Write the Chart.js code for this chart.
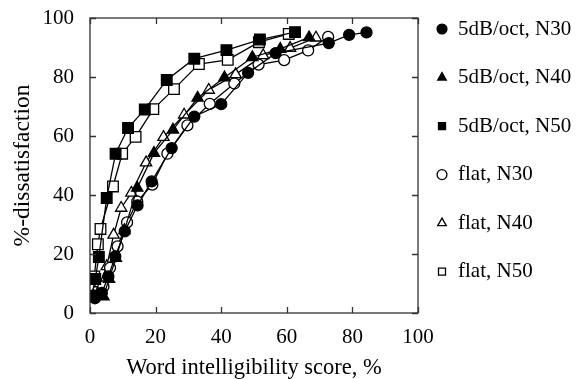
<!DOCTYPE html>
<html>
<head>
<meta charset="utf-8">
<script src="https://cdn.jsdelivr.net/npm/chart.js@4/dist/chart.umd.min.js"></script>
<style>
  html, body { margin: 0; padding: 0; background: #fff; }
  #wrap { width: 580px; height: 379px; }
</style>
</head>
<body>
<div id="wrap"><canvas id="plot"></canvas></div>
<script>
const seriesNames = ['5dB/oct, N30', '5dB/oct, N40', '5dB/oct, N50', 'flat, N30', 'flat, N40', 'flat, N50'];

// word intelligibility score (%) and %-dissatisfaction per condition
const slopeN30X = [1.5, 3.6, 5.6, 7.7, 10.6, 14.5, 18.8, 24.9, 31.8, 40.0, 48.2, 56.6, 72.8, 79.0, 84.3];
const slopeN30Y = [5.0, 6.8, 12.4, 19.2, 27.7, 36.5, 44.6, 55.9, 66.6, 70.8, 81.4, 88.1, 91.5, 94.3, 95.1];

const slopeN40X = [1.0, 4.1, 5.8, 7.9, 10.5, 14.4, 19.5, 25.3, 32.8, 41.0, 49.5, 58.0, 66.8];
const slopeN40Y = [5.5, 5.6, 11.5, 18.6, 28.0, 42.4, 54.2, 62.1, 72.9, 79.8, 86.7, 89.5, 93.4];

const slopeN50X = [0.5, 1.6, 2.7, 5.1, 7.8, 11.6, 16.7, 23.4, 31.8, 41.6, 51.8, 62.5];
const slopeN50Y = [5.6, 11.5, 19.0, 39.0, 54.0, 62.7, 69.0, 79.0, 86.2, 89.1, 92.7, 95.2];

const flatN30X = [1.2, 4.1, 6.1, 8.4, 11.3, 14.4, 19.0, 23.6, 29.7, 36.5, 44.0, 51.4, 59.2, 66.5, 72.6];
const flatN30Y = [5.5, 9.0, 15.3, 22.6, 30.7, 37.8, 43.5, 54.0, 63.6, 70.9, 77.8, 84.2, 85.7, 89.0, 93.6];

const flatN40X = [1.0, 3.0, 5.1, 7.2, 9.5, 12.6, 17.1, 22.4, 28.7, 36.2, 44.4, 52.8, 61.0, 68.9];
const flatN40Y = [6.0, 10.0, 15.8, 26.5, 35.6, 40.7, 51.0, 59.6, 67.2, 75.6, 80.9, 87.3, 89.8, 93.3];

const flatN50X = [0.4, 0.6, 1.3, 2.4, 3.2, 7.0, 9.8, 13.9, 19.3, 25.6, 33.2, 42.0, 51.5, 60.6];
const flatN50Y = [6.0, 9.5, 12.4, 23.3, 28.5, 42.9, 54.0, 59.7, 69.1, 75.9, 84.4, 85.8, 91.8, 94.6];

const xTicks = [0, 20, 40, 60, 80, 100];
const yTicks = [0, 20, 40, 60, 80, 100];

const FONT = "'Liberation Serif', 'Times New Roman', serif";

const toPoints = (xs, ys) => xs.map((x, i) => ({ x: x, y: ys[i] }));

const makeSet = (label, xs, ys, style, filled, radius) => ({
  label: label,
  data: toPoints(xs, ys),
  borderColor: '#000',
  borderWidth: 1.3,
  backgroundColor: filled ? '#000' : '#fff',
  pointStyle: style,
  pointRadius: radius,
  pointHoverRadius: radius,
  pointBorderWidth: 1.3,
  pointBorderColor: '#000',
  pointBackgroundColor: filled ? '#000' : '#fff',
  tension: 0,
  fill: false
});

const datasets = [
  makeSet(seriesNames[0], slopeN30X, slopeN30Y, 'circle', true, 5.5),
  makeSet(seriesNames[1], slopeN40X, slopeN40Y, 'triangle', true, 6.5),
  makeSet(seriesNames[2], slopeN50X, slopeN50Y, 'rect', true, 7.5),
  makeSet(seriesNames[3], flatN30X, flatN30Y, 'circle', false, 5.5),
  makeSet(seriesNames[4], flatN40X, flatN40Y, 'triangle', false, 6.5),
  makeSet(seriesNames[5], flatN50X, flatN50Y, 'rect', false, 7.5)
];

// frame around the plot plus inward tick marks on all four sides
const frameTicks = {
  id: 'frameTicks',
  afterDraw(chart) {
    const { ctx, chartArea: a, scales } = chart;
    const len = 6;
    ctx.save();
    ctx.strokeStyle = '#333';
    ctx.lineWidth = 1.3;
    ctx.strokeRect(a.left, a.top, a.right - a.left, a.bottom - a.top);
    ctx.beginPath();
    xTicks.forEach(v => {
      const px = Math.round(scales.x.getPixelForValue(v)) + 0.5;
      ctx.moveTo(px, a.bottom); ctx.lineTo(px, a.bottom - len);
      ctx.moveTo(px, a.top); ctx.lineTo(px, a.top + len);
    });
    yTicks.forEach(v => {
      const py = Math.round(scales.y.getPixelForValue(v)) + 0.5;
      ctx.moveTo(a.left, py); ctx.lineTo(a.left + len, py);
      ctx.moveTo(a.right, py); ctx.lineTo(a.right - len, py);
    });
    ctx.stroke();
    ctx.restore();
  }
};

new Chart(document.getElementById('plot'), {
  type: 'line',
  data: { datasets: datasets },
  options: {
    responsive: true,
    maintainAspectRatio: false,
    animation: false,
    // negative left padding widens the room the layout allows the legend
    layout: { padding: { top: 0, right: 0, left: -68, bottom: 0 } },
    plugins: {
      tooltip: { enabled: false },
      legend: {
        position: 'right',
        align: 'start',
        labels: {
          usePointStyle: true,
          boxWidth: 11,
          boxHeight: 7,
          padding: 18.5,
          color: '#000',
          font: { family: FONT, size: 21, lineHeight: 1.43 },
          // single-line arrays so each row takes the font's line height
          generateLabels: chart => Chart.defaults.plugins.legend.labels.generateLabels(chart)
            .map(item => Object.assign(item, { text: [item.text] }))
        }
      }
    },
    scales: {
      x: {
        type: 'linear',
        min: 0,
        max: 100,
        afterBuildTicks: s => { s.ticks = xTicks.map(v => ({ value: v })); },
        afterFit: s => { s.height = 66; s.paddingLeft = 0; s.paddingRight = 0; },
        grid: { display: false, drawTicks: false },
        border: { display: false },
        ticks: { color: '#000', padding: 12, maxRotation: 0, font: { family: FONT, size: 21 } },
        title: {
          display: true,
          text: 'Word intelligibility score, %',
          color: '#000',
          padding: { top: 0, bottom: 0 },
          font: { family: FONT, size: 22.5, lineHeight: 1 }
        }
      },
      y: {
        min: 0,
        max: 100,
        afterBuildTicks: s => { s.ticks = yTicks.map(v => ({ value: v })); },
        afterFit: s => { s.width = 158; s.paddingTop = 18; s.paddingBottom = 0; },
        grid: { display: false, drawTicks: false },
        border: { display: false },
        ticks: { color: '#000', padding: 16, font: { family: FONT, size: 21 } },
        title: {
          display: true,
          text: '%-dissatisfaction',
          color: '#000',
          padding: { top: 77, bottom: 0 },
          font: { family: FONT, size: 23.5 }
        }
      }
    }
  },
  plugins: [frameTicks]
});
</script>
</body>
</html>
